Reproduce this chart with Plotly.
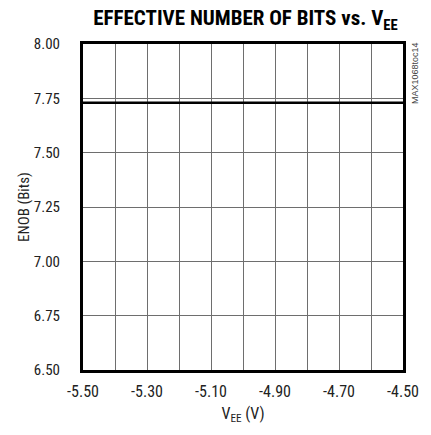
import plotly.graph_objects as go

vee = [-5.50, -5.40, -5.30, -5.20, -5.10, -5.00, -4.90, -4.80, -4.70, -4.60, -4.50]
enob = [7.73, 7.73, 7.73, 7.73, 7.73, 7.73, 7.73, 7.73, 7.73, 7.73, 7.73]

x_tickvals = [-5.50, -5.30, -5.10, -4.90, -4.70, -4.50]
x_ticktext = ["-5.50", "-5.30", "-5.10", "-4.90", "-4.70", "-4.50"]
y_tickvals = [6.50, 6.75, 7.00, 7.25, 7.50, 7.75, 8.00]
y_ticktext = ["6.50", "6.75", "7.00", "7.25", "7.50", "7.75", "8.00"]

FONT = "Liberation Sans Narrow, Roboto Condensed, Arial Narrow, Roboto, Liberation Sans, Arial"

fig = go.Figure()
fig.add_trace(go.Scatter(x=vee, y=enob, mode="lines",
                         line=dict(color="black", width=2.5), showlegend=False))

W, H = 431, 435
L, R, T, B = 83, 23, 44, 65
PW = W - L - R
fig.update_layout(
    width=W, height=H,
    margin=dict(l=L, r=R, t=T, b=B),
    paper_bgcolor="white", plot_bgcolor="white",
    font=dict(family=FONT, size=16, color="#222"),
    title=dict(text="<b>EFFECTIVE NUMBER OF BITS vs. V<sub>EE</sub></b>",
               x=(L + W - R) / 2 / W, xanchor="center", y=1 - 18 / H, yanchor="middle",
               font=dict(family=FONT, size=21, color="black")),
)
fig.update_xaxes(
    range=[-5.5, -4.5], tickvals=x_tickvals, ticktext=x_ticktext,
    showgrid=False, ticks="", ticklabelstandoff=5, ticklabeloverflow="allow",
    showline=True, linecolor="black", linewidth=3, mirror=True,
    minor=dict(dtick=0.1, tick0=-5.5, showgrid=True, gridcolor="#6e6e6e", gridwidth=1),
    title=dict(text="V<sub>EE</sub> (V)", standoff=8, font=dict(size=16)),
    zeroline=False,
)
fig.update_yaxes(
    range=[6.5, 8.0], tickvals=y_tickvals, ticktext=y_ticktext,
    showgrid=True, gridcolor="#6e6e6e", gridwidth=1, ticks="", ticklabelstandoff=17,
    ticklabeloverflow="allow", tickfont=dict(size=15),
    showline=True, linecolor="black", linewidth=3, mirror=True,
    zeroline=False,
)
# y-axis title placed as a rotated annotation, close to the tick labels as in the reference
fig.add_annotation(text="ENOB (Bits)", textangle=-90, xref="paper", yref="paper",
                   x=(23 - L) / PW, y=0.5, xanchor="center", yanchor="middle",
                   showarrow=False, font=dict(family=FONT, size=15, color="#222"))
fig.add_annotation(text="MAX1068toc14", textangle=-90, xref="paper", yref="paper",
                   x=1.0, y=1.0, xanchor="left", yanchor="top", xshift=5, yshift=4,
                   showarrow=False,
                   font=dict(family="Liberation Sans, Arial", size=9, color="#444"))

fig.write_html("out.html", config={"displayModeBar": False},
               post_script="document.body.style.margin='0';document.body.style.overflow='hidden';")
